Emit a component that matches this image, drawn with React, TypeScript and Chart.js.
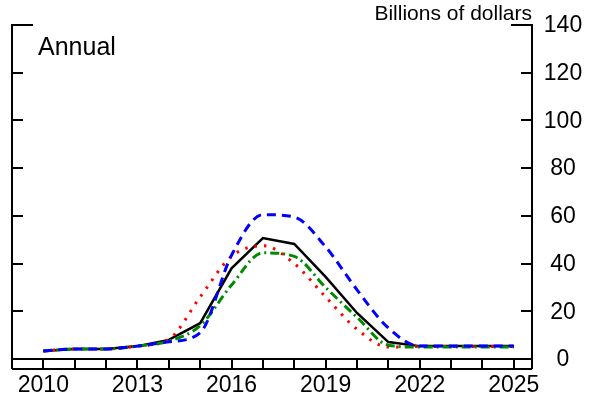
import React, { useEffect, useRef } from "react";
import { Chart, registerables } from "chart.js";

Chart.register(...registerables);

const years = [2010, 2011, 2012, 2013, 2014, 2015, 2016, 2017, 2018, 2019, 2020, 2021, 2022, 2023, 2024, 2025];
const blackSeries = [3.4, 4.2, 4.2, 5.4, 8.0, 15, 38, 50.7, 48.2, 34.4, 19.3, 7.1, 5.4, 5.4, 5.4, 5.4];
const blueSeries = [3.4, 4.2, 4.2, 5.4, 7.2, 11, 43.5, 60.5, 59.5, 47, 29, 13, 5.4, 5.4, 5.4, 5.4];
const redSeries = [3.4, 4.2, 4.2, 5.4, 8.2, 26, 43, 47.5, 40, 26, 12.5, 5, 5.2, 5.2, 5.2, 5.2];
const greenSeries = [3.4, 4.2, 4.2, 5.4, 7.5, 14, 31, 44.5, 43, 30, 17.5, 5.8, 5, 5, 5, 5];
const yTickValues = [0, 20, 40, 60, 80, 100, 120, 140];
const xLabelYears = [2010, 2013, 2016, 2019, 2022, 2025];
const unitLabel = "Billions of dollars";
const panelLabel = "Annual";

const FONT = '"Liberation Sans", Arial, sans-serif';

const toPoints = (vals: number[]) => vals.map((v, i) => ({ x: years[i], y: v }));

const framePlugin = {
  id: "frame",
  afterDraw(chart: any) {
    const ctx = chart.ctx;
    const { left, right, top, bottom } = chart.chartArea;
    const xs = chart.scales.x;
    const ys = chart.scales.y;
    const band = 10;
    ctx.save();
    ctx.strokeStyle = "#000";
    ctx.lineWidth = 2;
    ctx.lineCap = "butt";
    ctx.beginPath();
    ctx.moveTo(left, top);
    ctx.lineTo(left, bottom + band);
    ctx.moveTo(right, top);
    ctx.lineTo(right, bottom + band);
    ctx.moveTo(left, bottom);
    ctx.lineTo(right, bottom);
    ctx.moveTo(left, bottom + band);
    ctx.lineTo(right, bottom + band);
    years.forEach((yr) => {
      const px = Math.round(xs.getPixelForValue(yr));
      ctx.moveTo(px, bottom);
      ctx.lineTo(px, bottom + band);
    });
    yTickValues.forEach((v) => {
      const py = Math.round(ys.getPixelForValue(v));
      const len = v === 140 ? 21 : 11;
      ctx.moveTo(left - 1, py);
      ctx.lineTo(left + len, py);
      ctx.moveTo(right - len, py);
      ctx.lineTo(right + 1, py);
    });
    ctx.stroke();

    ctx.fillStyle = "#000";
    ctx.font = `23px ${FONT}`;
    ctx.textAlign = "center";
    ctx.textBaseline = "middle";
    yTickValues.forEach((v) => {
      const py = ys.getPixelForValue(v);
      ctx.fillText(String(v), right + 31, py + 1);
    });
    xLabelYears.forEach((yr) => {
      const px = xs.getPixelForValue(yr);
      ctx.fillText(String(yr), px, bottom + 27);
    });

    ctx.textBaseline = "alphabetic";
    ctx.textAlign = "left";
    ctx.font = `25px ${FONT}`;
    ctx.fillText(panelLabel, 38, 55);

    ctx.textAlign = "right";
    ctx.font = `21px ${FONT}`;
    ctx.fillText(unitLabel, right, 20);
    ctx.restore();
  },
};

export default function App() {
  const ref = useRef<HTMLCanvasElement | null>(null);
  useEffect(() => {
    if (!ref.current) return;
    const chart = new Chart(ref.current, {
      type: "line",
      data: {
        datasets: [
          {
            label: "Blue",
            data: toPoints(blueSeries),
            borderColor: "#0000ff",
            borderWidth: 3,
            borderDash: [9, 6],
            cubicInterpolationMode: "monotone",
            pointRadius: 0,
            fill: false,
            order: 1,
          },
          {
            label: "Green",
            data: toPoints(greenSeries),
            borderColor: "#008a00",
            borderWidth: 3,
            borderDash: [9, 4, 2, 4],
            cubicInterpolationMode: "monotone",
            pointRadius: 0,
            fill: false,
            order: 2,
          },
          {
            label: "Red",
            data: toPoints(redSeries),
            borderColor: "#ff0000",
            borderWidth: 3,
            borderDash: [2.5, 7],
            cubicInterpolationMode: "monotone",
            pointRadius: 0,
            fill: false,
            order: 3,
          },
          {
            label: "Black",
            data: toPoints(blackSeries),
            borderColor: "#000000",
            borderWidth: 2.5,
            tension: 0,
            pointRadius: 0,
            fill: false,
            order: 4,
          },
        ],
      },
      options: {
        animation: false,
        responsive: false,
        maintainAspectRatio: false,
        layout: { padding: { left: 12, right: 63, top: 25, bottom: 43 } },
        plugins: { legend: { display: false }, tooltip: { enabled: false }, title: { display: false } },
        scales: {
          x: { type: "linear", min: 2009, max: 2025.58, display: false },
          y: { type: "linear", min: 0, max: 140, display: false },
        },
      },
      plugins: [framePlugin],
    });
    return () => chart.destroy();
  }, []);
  return (
    <div style={{ position: "fixed", left: 0, top: 0, width: 595, height: 402, background: "#fff" }}>
      <canvas ref={ref} width={595} height={402} style={{ width: 595, height: 402 }} />
    </div>
  );
}
